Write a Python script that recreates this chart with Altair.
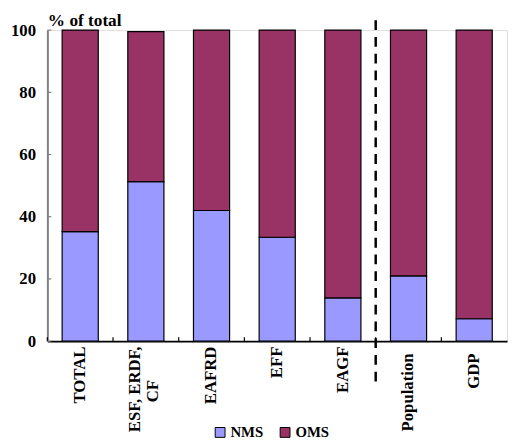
import altair as alt
import pandas as pd

categories = ["TOTAL", "ESF, ERDF, CF", "EAFRD", "EFF", "EAGF", "Population", "GDP"]
nms = [35.2, 51.3, 42.0, 33.4, 13.9, 21.0, 7.2]
oms = [64.8, 48.2, 58.0, 66.6, 86.1, 79.0, 92.8]
series = ["NMS", "OMS"]
colors = ["#9999FF", "#993366"]
y_ticks = [0, 20, 40, 60, 80, 100]
divider_after = "EAGF"

rows = []
for c, a, b in zip(categories, nms, oms):
    rows.append({"cat": c, "series": "NMS", "value": a, "ord": 0})
    rows.append({"cat": c, "series": "OMS", "value": b, "ord": 1})
df = pd.DataFrame(rows)

FONT = "Liberation Serif"
NB = "\u00a0"
ZW = "\u200b"
W, H = 467, 316

label_expr = (
    "datum.value == 'ESF, ERDF, CF' ? ['ESF, ERDF,', 'CF" + NB * 8 + ZW + "'] : datum.value"
)

xscale = alt.Scale(paddingInner=0, paddingOuter=0)
yscale = alt.Scale(domain=[0, 100], nice=False)

bars = alt.Chart(df).mark_bar(
    width=alt.RelativeBandSize(0.55), stroke="black", strokeWidth=1.2
).encode(
    x=alt.X("cat:N", sort=categories, scale=xscale, title=None,
            axis=alt.Axis(labelAngle=-90, labelExpr=label_expr, ticks=False,
                          labelFont=FONT, labelFontWeight="bold", labelFontSize=17,
                          labelColor="black", labelLineHeight=18,
                          labelPadding={"condition": {"test": "datum.value == 'Population' || datum.value == 'GDP'",
                                                      "value": 12}, "value": 5},
                          labelOffset={"condition": {"test": "datum.value == 'ESF, ERDF, CF'",
                                                     "value": -11}, "value": 0},
                          domainColor="black", domainWidth=2)),
    y=alt.Y("value:Q", stack="zero", scale=yscale,
            title="% of total",
            axis=alt.Axis(values=y_ticks, grid=False, ticks=False, labelFont=FONT,
                          labelFontWeight="bold", labelFontSize=17, labelColor="black",
                          labelPadding=12, domainColor="#808080", domainWidth=2,
                          titleAngle=0, titleAlign="left", titleBaseline="alphabetic",
                          titleX=0, titleY=-5, titleFont=FONT, titleFontWeight="bold",
                          titleFontSize=17.5, titleColor="black")),
    color=alt.Color("series:N", scale=alt.Scale(domain=series, range=colors),
                    legend=alt.Legend(title=None, orient="none", legendX=168, legendY=401,
                                      direction="horizontal", symbolType="square",
                                      symbolSize=100, symbolStrokeColor="black",
                                      symbolStrokeWidth=1, labelFont=FONT,
                                      labelFontWeight="bold", labelFontSize=15,
                                      labelColor="black", columnPadding=14,
                                      labelOffset=3, padding=0)),
    order=alt.Order("ord:Q"),
)

# inward tick marks (Excel style)
x_ticks = alt.Chart(pd.DataFrame({"cat": categories})).mark_rule(
    color="black", strokeWidth=1.2
).encode(
    x=alt.X("cat:N", sort=categories, scale=xscale, bandPosition=0),
    y=alt.value(H),
    y2=alt.value(H - 4),
)

y_tick_marks = alt.Chart(pd.DataFrame({"v": y_ticks})).mark_rule(
    color="#808080", strokeWidth=1.2
).encode(
    y=alt.Y("v:Q", scale=yscale),
    x=alt.value(0),
    x2=alt.value(4),
)

divider = alt.Chart(pd.DataFrame({"cat": [divider_after]})).mark_rule(
    color="black", strokeWidth=2.5, strokeDash=[10, 7]
).encode(
    x=alt.X("cat:N", sort=categories, scale=xscale, bandPosition=1),
    y=alt.value(-10),
    y2=alt.value(H + 48),
)

chart = alt.layer(bars, x_ticks, y_tick_marks, divider).properties(
    width=W, height=H,
    autosize=alt.AutoSizeParams(type="none"),
    padding={"left": 40, "top": 19, "right": 2, "bottom": 98},
).configure_view(stroke=None).configure(background="white")

chart.save("out.html", embed_options={"renderer": "svg", "actions": False})
